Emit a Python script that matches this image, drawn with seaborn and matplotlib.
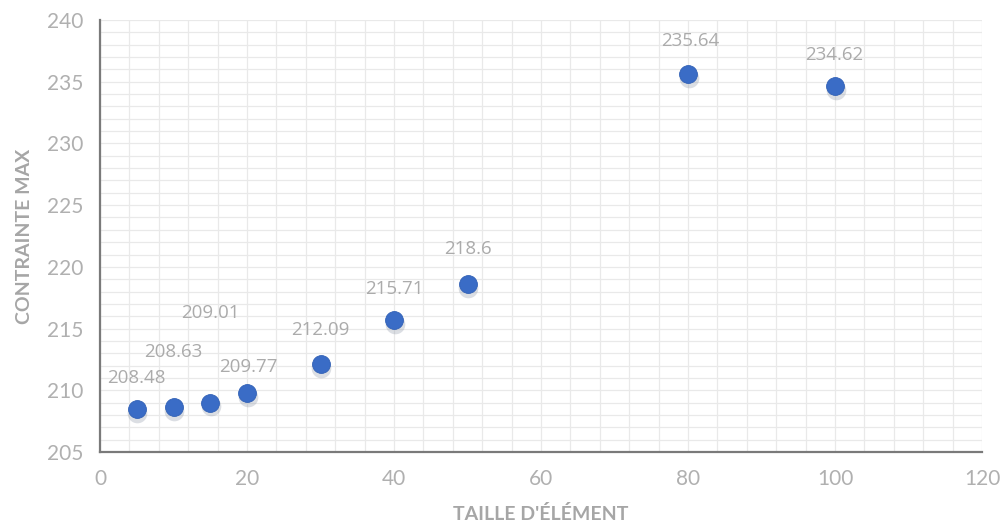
import matplotlib
matplotlib.use("Agg")
import matplotlib.pyplot as plt
from matplotlib.ticker import MultipleLocator
import seaborn as sns
import pandas as pd

# Element size vs. maximum stress
taille = [5, 10, 15, 20, 30, 40, 50, 80, 100]
contrainte = [208.48, 208.63, 209.01, 209.77, 212.09, 215.71, 218.6, 235.64, 234.62]
etiquettes = ["208.48", "208.63", "209.01", "209.77", "212.09", "215.71", "218.6", "235.64", "234.62"]

# label offsets in pixels (dx, dy) above each point
decalages = [(0, 31), (0, 55), (0, 90), (1, 26), (0, 34), (0, 31), (0, 35), (2, 33), (-1, 31)]

sns.set_style("white")
plt.rcParams["font.family"] = ["Lato", "DejaVu Sans"]

df = pd.DataFrame({"taille": taille, "contrainte": contrainte})

fig = plt.figure(figsize=(10.06, 5.29), dpi=100)
ax = fig.add_axes([100 / 1006, 1 - 452 / 529, (982 - 100) / 1006, (452 - 20) / 529])

ax.set_xlim(0, 120)
ax.set_ylim(205, 240)
ax.xaxis.set_major_locator(MultipleLocator(20))
ax.xaxis.set_minor_locator(MultipleLocator(4))
ax.yaxis.set_major_locator(MultipleLocator(5))
ax.yaxis.set_minor_locator(MultipleLocator(1))
ax.grid(which="both", color="#e9e9e9", linewidth=0.9)
ax.set_axisbelow(True)

# soft drop shadow under the markers
ax.scatter(df["taille"] + 0.1, df["contrainte"] - 0.3, s=200, color="#8a93a5",
           alpha=0.3, linewidths=0, zorder=2)
sns.scatterplot(data=df, x="taille", y="contrainte", ax=ax, s=165, color="#3a6cc6",
                edgecolor="#2f5fb5", linewidth=0.6, zorder=3, legend=False)

for x, y, lab, (dx, dy) in zip(taille, contrainte, etiquettes, decalages):
    ax.annotate(lab, (x, y), xytext=(dx, dy), textcoords="offset pixels",
                ha="center", va="center", fontsize=13.5, color="#ababab",
                family=["Open Sans", "DejaVu Sans"], zorder=4)

for side in ("top", "right"):
    ax.spines[side].set_visible(False)
for side in ("left", "bottom"):
    ax.spines[side].set_color("#7a7a7a")
    ax.spines[side].set_linewidth(1.6)

ax.tick_params(axis="both", which="major", direction="out", length=6, width=1.4,
               color="#7a7a7a", labelcolor="#b0b0b0", labelsize=15, pad=6)
ax.tick_params(axis="both", which="minor", length=0)

ax.set_xlabel("TAILLE D'ÉLÉMENT", fontsize=14, color="#a6a6a6", fontweight="bold", labelpad=12)
ax.set_ylabel("CONTRAINTE MAX", fontsize=14, color="#a6a6a6", fontweight="bold", labelpad=10)

fig.savefig("out.png", dpi=100)
